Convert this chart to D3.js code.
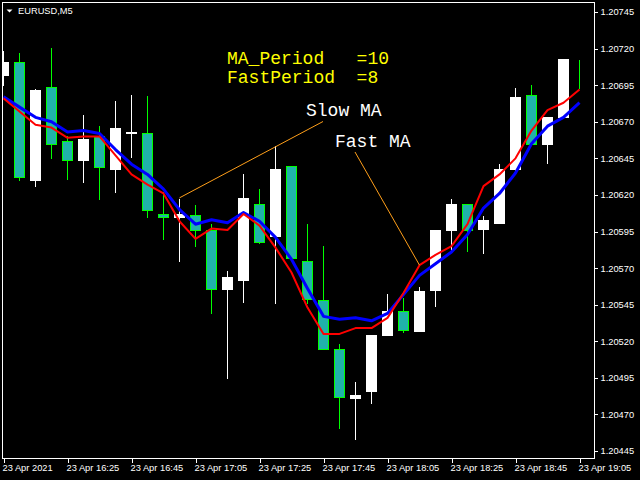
<!DOCTYPE html>
<html><head><meta charset="utf-8">
<script src="https://cdn.jsdelivr.net/npm/d3@7"></script>
<style>html,body{margin:0;padding:0;background:#000;overflow:hidden}</style>
</head><body>
<svg id="c" width="640" height="480"></svg>
<script>
// EURUSD M5, 23 Apr 2021, bars 16:05 .. 19:05
const opens  = [1.20702,1.20711,1.20630,1.20694,1.20657,1.20644,1.20660,1.20638,1.20662,1.20662,1.20607,1.20605,1.20606,1.20596,1.20556,1.20562,1.20614,1.20592,1.20640,1.20575,1.20548,1.20515,1.20481,1.20486,1.20524,1.20541,1.20527,1.20555,1.20596,1.20614,1.20597,1.20601,1.20638,1.20688,1.20655,1.20673,1.20712];
const highs  = [1.20719,1.20718,1.20693,1.20721,1.20661,1.20675,1.20668,1.20685,1.20689,1.20688,1.20623,1.20618,1.20614,1.20601,1.20569,1.20635,1.20625,1.20654,1.20640,1.20601,1.20586,1.20519,1.20493,1.20525,1.20553,1.20550,1.20558,1.20597,1.20618,1.20614,1.20606,1.20642,1.20694,1.20696,1.20674,1.20713,1.20713];
const lows   = [1.20695,1.20630,1.20626,1.20645,1.20631,1.20629,1.20617,1.20622,1.20646,1.20605,1.20590,1.20575,1.20585,1.20539,1.20495,1.20547,1.20587,1.20546,1.20576,1.20546,1.20515,1.20461,1.20453,1.20478,1.20524,1.20526,1.20527,1.20544,1.20582,1.20582,1.20580,1.20601,1.20637,1.20655,1.20642,1.20673,1.20693];
const closes = [1.20711,1.20632,1.20692,1.20655,1.20644,1.20658,1.20639,1.20666,1.20663,1.20610,1.20605,1.20607,1.20596,1.20556,1.20564,1.20618,1.20588,1.20638,1.20577,1.20549,1.20515,1.20482,1.20483,1.20524,1.20541,1.20528,1.20554,1.20596,1.20614,1.20596,1.20603,1.20638,1.20687,1.20655,1.20673,1.20713,1.20712];
const slowMA = [1.20687,1.20680,1.20673,1.20670,1.20663,1.20664,1.20662,1.20651,1.20641,1.20634,1.20624,1.20610,1.20600,1.20603,1.20601,1.20608,1.20602,1.20591,1.20576,1.20556,1.20537,1.20535,1.20536,1.20534,1.20539,1.20552,1.20565,1.20573,1.20581,1.20593,1.20611,1.20621,1.20635,1.20655,1.20667,1.20673,1.20683];
const fastMA = [1.20686,1.20677,1.20668,1.20666,1.20659,1.20660,1.20660,1.20647,1.20634,1.20627,1.20621,1.20602,1.20590,1.20597,1.20596,1.20607,1.20599,1.20584,1.20567,1.20543,1.20525,1.20525,1.20529,1.20529,1.20536,1.20553,1.20572,1.20579,1.20585,1.20600,1.20626,1.20634,1.20645,1.20664,1.20678,1.20683,1.20692];
const xTickBars = [0,4,8,12,16,20,24,28,32,36];
const xLabels = ["23 Apr 2021","23 Apr 16:25","23 Apr 16:45","23 Apr 17:05","23 Apr 17:25","23 Apr 17:45","23 Apr 18:05","23 Apr 18:25","23 Apr 18:45","23 Apr 19:05"];
const priceTicks = [1.20445,1.20470,1.20495,1.20520,1.20545,1.20570,1.20595,1.20620,1.20645,1.20670,1.20695,1.20720,1.20745];
const infoLines = ["MA_Period   =10","FastPeriod  =8"];

const svg = d3.select("#c");
svg.append("rect").attr("width",640).attr("height",480).attr("fill","#000");

const x = d3.scaleLinear().domain([0,36]).range([3.5,579.5]);
const y = d3.scaleLinear().domain([1.20445,1.20745]).range([451,12]);
const py = v => Math.round(y(v)) + 0.5;

svg.append("clipPath").attr("id","plot").append("rect")
  .attr("x",3).attr("y",3).attr("width",591).attr("height",455);

const plot = svg.append("g").attr("clip-path","url(#plot)");
const bars = d3.range(opens.length).map(i => ({i, o:opens[i], h:highs[i], l:lows[i], c:closes[i]}));

const bull = d => d.c > d.o;
// wicks
plot.selectAll("line.wick").data(bars).join("line").attr("class","wick")
  .attr("x1",d=>x(d.i)).attr("x2",d=>x(d.i))
  .attr("y1",d=>py(d.h)).attr("y2",d=>py(d.l))
  .attr("stroke",d=>bull(d)?"#ffffff":"#00ff00").attr("stroke-width",1)
  .attr("shape-rendering","crispEdges");
// bodies
plot.selectAll("rect.body").data(bars).join("rect").attr("class","body")
  .attr("x",d=>x(d.i)-5).attr("width",10)
  .attr("y",d=>py(Math.max(d.o,d.c)))
  .attr("height",d=>py(Math.min(d.o,d.c))-py(Math.max(d.o,d.c)))
  .attr("fill",d=>bull(d)?"#ffffff":"#20b2aa")
  .attr("stroke",d=>bull(d)?"#ffffff":"#00ff00").attr("stroke-width",1)
  .attr("shape-rendering","crispEdges");

// moving averages
const lineGen = arr => d3.line().x((d,i)=>x(i)).y(d=>y(d))(arr);
plot.append("path").attr("d",lineGen(slowMA)).attr("fill","none")
  .attr("stroke","#0000ff").attr("stroke-width",3).attr("stroke-linejoin","round");
plot.append("path").attr("d",lineGen(fastMA)).attr("fill","none")
  .attr("stroke","#ff0000").attr("stroke-width",2).attr("stroke-linejoin","round");

// annotation lines
plot.append("line").attr("x1",x(11)).attr("y1",y(highs[11])).attr("x2",323).attr("y2",121.5)
  .attr("stroke","#ff9f1a").attr("stroke-width",1);
plot.append("line").attr("x1",355).attr("y1",152).attr("x2",x(26)).attr("y2",y(fastMA[26]))
  .attr("stroke","#ff9f1a").attr("stroke-width",1);

// texts
const mono = "'Liberation Mono','Courier New',monospace";
infoLines.forEach((t,k)=>{
  svg.append("text").attr("x",227).attr("y",64+19*k).text(t)
    .attr("fill","#ffff00").attr("font-family",mono).attr("font-size",18)
    .style("white-space","pre");
});
svg.append("text").attr("x",306).attr("y",116).text("Slow MA")
  .attr("fill","#ffffff").attr("font-family",mono).attr("font-size",18).style("white-space","pre");
svg.append("text").attr("x",335).attr("y",147).text("Fast MA")
  .attr("fill","#ffffff").attr("font-family",mono).attr("font-size",18).style("white-space","pre");

// frame
svg.append("rect").attr("x",2.5).attr("y",2.5).attr("width",592).attr("height",456)
  .attr("fill","none").attr("stroke","#ffffff").attr("stroke-width",1);

const sans = "'Liberation Sans',Arial,sans-serif";
// right price axis
const ay = svg.append("g").attr("transform","translate(594.5,0)")
  .call(d3.axisRight(y).tickValues(priceTicks).tickFormat(d3.format(".5f")).tickSize(3).tickPadding(3));
ay.select(".domain").remove();
ay.selectAll("line").attr("stroke","#fff").attr("shape-rendering","crispEdges");
ay.selectAll("text").attr("fill","#fff").attr("font-family",sans).attr("font-size",9.3);

// bottom time axis
const ax = svg.append("g").attr("transform","translate(0,458.5)")
  .call(d3.axisBottom(x).tickValues(xTickBars).tickFormat((d,i)=>xLabels[i]).tickSize(4).tickPadding(2));
ax.select(".domain").remove();
ax.selectAll("line").attr("stroke","#fff").attr("shape-rendering","crispEdges");
ax.selectAll("text").attr("fill","#fff").attr("font-family",sans).attr("font-size",9.3)
  .attr("text-anchor","start").attr("x",-1.5).attr("y",5.5);

// title
svg.append("path").attr("d","M6.5,9.5 L12.5,9.5 L9.5,12.5 Z").attr("fill","#fff");
svg.append("text").attr("x",18).attr("y",13.5).text("EURUSD,M5")
  .attr("fill","#fff").attr("font-family",sans).attr("font-size",9.3);
</script>
</body></html>
